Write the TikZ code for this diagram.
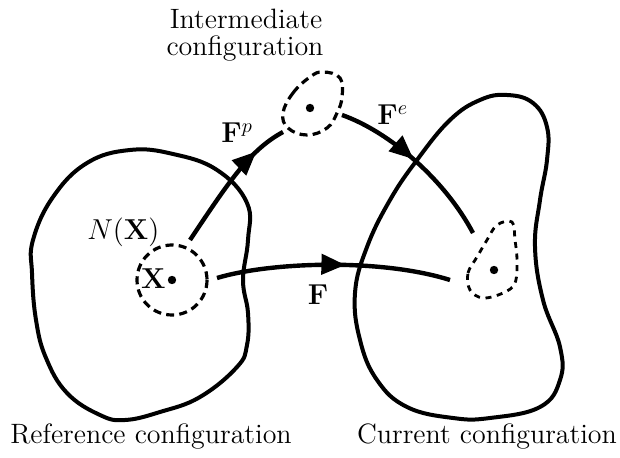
\documentclass[tikz,border=0pt]{standalone}
\usetikzlibrary{arrows.meta,decorations.markings}
\begin{document}
\begin{tikzpicture}[x=0.5pt,y=-0.5pt,
  every node/.style={font=\fontsize{14}{16}\selectfont, inner sep=0pt},
  body/.style={line width=2pt, line join=round},
  nbhd/.style={line width=1.6pt, dash pattern=on 4pt off 2.6pt},
  smallnbhd/.style={line width=1.4pt, dash pattern=on 3pt off 2.8pt},
  map/.style={line width=2.2pt, postaction=decorate},
  tipat/.style={decoration={markings, mark=at position #1 with {\arrow{Triangle[length=12pt,width=10pt]}}}},
  ptdot/.style={fill, circle, minimum size=4.2pt, inner sep=0pt}
]
\useasboundingbox (0,0) rectangle (620,458);

% bodies
\draw[body] plot[smooth cycle, tension=0.7] coordinates {(130,150) (173,154) (217,170) (247,203) (248,240) (243,280) (248,313) (247,345) (237,367) (200,397) (160,412) (125,420) (100,415) (67,393) (46,358) (36,320) (32,273) (33,240) (53,197) (87,163)};
\draw[body] plot[smooth cycle, tension=0.7] coordinates {(507,95) (533,103) (547,127) (547,160) (540,200) (535,247) (543,300) (560,347) (560,380) (540,407) (490,418) (453,418) (407,407) (377,380) (360,340) (355,293) (367,247) (390,200) (417,160) (450,120) (480,100)};

% neighbourhoods
\node[ptdot] (X) at (172,280) {};
\draw[nbhd] (X) circle[radius=35];
\node[ptdot] (Xi) at (310,108) {};
\draw[nbhd] plot[smooth cycle, tension=0.7] coordinates {(283,113) (293,93) (310,77) (323,72) (340,78) (342,97) (337,113) (327,128) (307,135) (288,128)};
\node[ptdot] (x) at (494,270) {};
\draw[smallnbhd] plot[smooth cycle, tension=0.6] coordinates {(470,290) (468,273) (477,257) (487,240) (497,225) (512,222) (515,240) (517,260) (515,283) (503,293) (483,298)};

% connector end points
\coordinate (fp0) at (190,240);
\coordinate (fp1) at (283,132);
\coordinate (fe0) at (342,115);
\coordinate (fe1) at (473,233);
\coordinate (f0) at (217,278);
\coordinate (f1) at (450,280);

\draw[map, tipat=0.77] (fp0) .. controls (230,180) and (250,150) .. (fp1);
\draw[map, tipat=0.47] (fe0) .. controls (390,132) and (445,180) .. (fe1);
\draw[map, tipat=0.55] (f0) .. controls (270,262) and (380,258) .. (f1);

% labels
\node[anchor=base] (int1) at (246,29) {Intermediate};
\node[anchor=base] (int2) at (245,56) {configuration};
\node[anchor=base] (ref) at (151,444) {Reference configuration};
\node[anchor=base] (cur) at (487,444) {Current configuration};
\node[anchor=base west] (lN) at (87,240) {$N(\mathbf{X})$};
\node[anchor=base east] (lX) at (166,289) {$\mathbf{X}$};
\node[anchor=base west] (lFp) at (221,143) {$\mathbf{F}^p$};
\node[anchor=base west] (lFe) at (377,125) {$\mathbf{F}^e$};
\node[anchor=base] (lF) at (318,305) {$\mathbf{F}$};
\end{tikzpicture}
\end{document}
